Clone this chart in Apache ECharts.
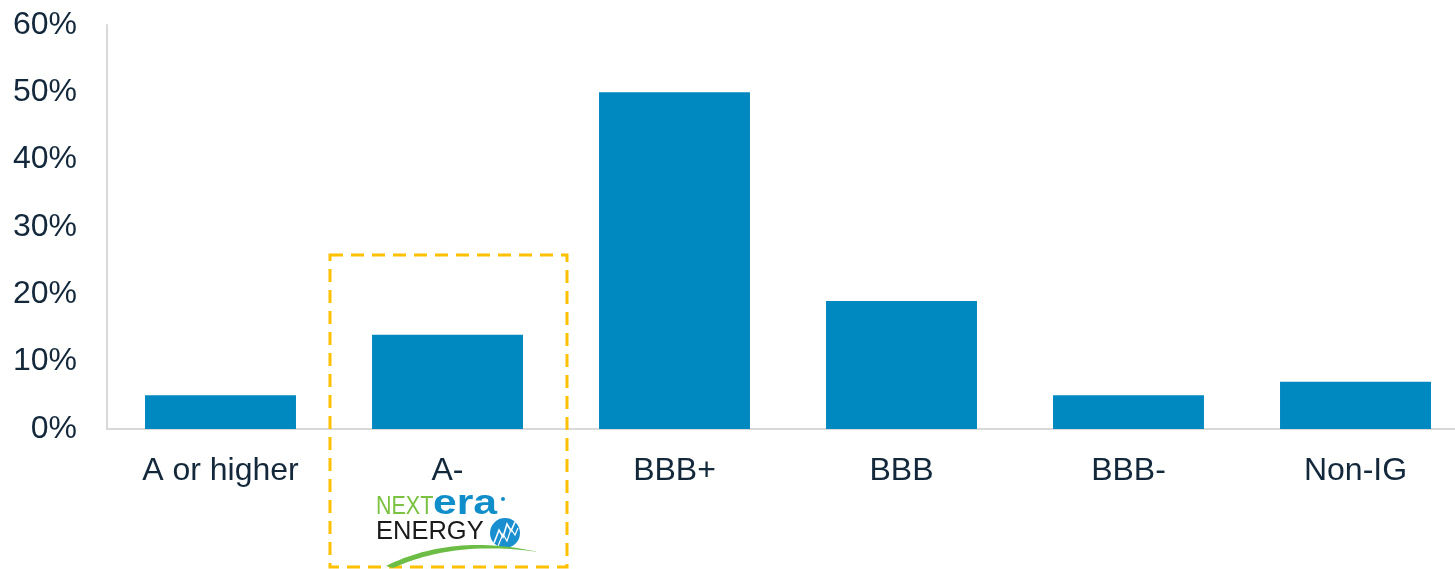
<!DOCTYPE html>
<html>
<head>
<meta charset="utf-8">
<script src="https://cdn.jsdelivr.net/npm/echarts@6/dist/echarts.min.js"></script>
<style>
  html, body { margin: 0; padding: 0; background: #ffffff; }
  #chart { width: 1455px; height: 569px; }
</style>
</head>
<body>
<div id="chart"></div>
<script>
// Share of issuers by credit rating bucket (%)
const ratingCategories = ['A or higher', 'A-', 'BBB+', 'BBB', 'BBB-', 'Non-IG'];
const ratingShares = [5, 14, 50, 19, 5, 7];
const yTicks = { min: 0, max: 60, step: 10 };

const textColor = '#13283b';
const barColor = '#0089c0';
const axisGray = '#d9d9d9';
const fontFamily = '"Liberation Sans", Arial, sans-serif';

// Green swoosh under the logo: crescent built from two quadratic curves
function quad(p0, p1, p2, n) {
  const pts = [];
  for (let i = 0; i <= n; i++) {
    const t = i / n;
    const a = (1 - t) * (1 - t), b = 2 * (1 - t) * t, c = t * t;
    pts.push([a * p0[0] + b * p1[0] + c * p2[0], a * p0[1] + b * p1[1] + c * p2[1]]);
  }
  return pts;
}
const swooshTop = quad([386, 566], [452, 533], [538, 552], 30);
const swooshBottom = quad([538, 552], [455, 540], [393, 568], 30);
const swoosh = swooshTop.concat(swooshBottom);

const chart = echarts.init(document.getElementById('chart'), null, { renderer: 'canvas' });

chart.setOption({
  animation: false,
  backgroundColor: '#ffffff',
  // plot area runs a little past the right edge of the canvas
  grid: { left: 107, width: 1362, top: 25, bottom: 140, containLabel: false, outerBoundsMode: 'none' },
  xAxis: {
    type: 'category',
    data: ratingCategories,
    axisLine: { show: true, lineStyle: { color: axisGray, width: 2 } },
    axisTick: { show: false },
    axisLabel: { color: textColor, fontSize: 32, fontFamily: fontFamily, margin: 26 }
  },
  yAxis: {
    type: 'value',
    min: yTicks.min,
    max: yTicks.max,
    interval: yTicks.step,
    axisLine: { show: true, lineStyle: { color: axisGray, width: 2 } },
    axisTick: { show: false },
    splitLine: { show: false },
    axisLabel: { color: textColor, fontSize: 32, fontFamily: fontFamily, margin: 30, formatter: '{value}%' }
  },
  series: [{
    type: 'bar',
    data: ratingShares,
    barWidth: '66.5%',
    itemStyle: { color: barColor }
  }],
  graphic: [
    // dashed highlight around the A- bucket
    {
      type: 'rect',
      shape: { x: 330, y: 255, width: 237, height: 312 },
      style: { fill: 'none', stroke: '#ffc000', lineWidth: 3, lineDash: [13, 8] },
      z: 10
    },
    // NextEra Energy wordmark
    {
      type: 'text', x: 376, y: 507, scaleX: 0.86, z: 10,
      style: { text: 'NEXT', x: 0, y: 0, textVerticalAlign: 'middle', font: '300 25px ' + fontFamily, fill: '#7cc242' }
    },
    {
      type: 'text', x: 433, y: 504, scaleX: 1.22, z: 10,
      style: { text: 'era', x: 0, y: 0, textVerticalAlign: 'middle', font: 'bold 35px ' + fontFamily, fill: '#0f8ec9' }
    },
    {
      type: 'circle', z: 10,
      shape: { cx: 503, cy: 499, r: 2 },
      style: { fill: '#0f8ec9' }
    },
    {
      type: 'text', x: 376, y: 532, scaleX: 1.02, z: 10,
      style: { text: 'ENERGY', x: 0, y: 0, textVerticalAlign: 'middle', font: '300 25px ' + fontFamily, fill: '#1a1a1a' }
    },
    {
      type: 'circle', z: 10,
      shape: { cx: 505, cy: 533, r: 15 },
      style: { fill: '#1a8fd0' }
    },
    {
      type: 'polyline', z: 11,
      shape: { points: [[494, 543], [499, 530], [503, 537], [507, 524], [511, 531], [515, 522]] },
      style: { stroke: '#ffffff', lineWidth: 1.6, fill: 'none' }
    },
    {
      type: 'polyline', z: 11,
      shape: { points: [[498, 546], [503, 534], [507, 541], [511, 529], [515, 535], [518, 528]] },
      style: { stroke: '#ffffff', lineWidth: 1.2, fill: 'none' }
    },
    {
      type: 'polygon', z: 12,
      shape: { points: swoosh },
      style: { fill: '#6cbd45' }
    }
  ]
});
</script>
</body>
</html>
